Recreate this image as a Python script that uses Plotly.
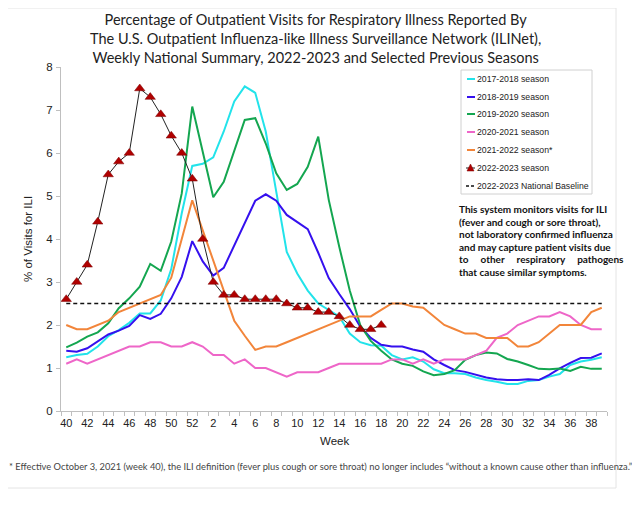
import plotly.graph_objects as go

# ---------------- data ----------------
weeks = [40, 41, 42, 43, 44, 45, 46, 47, 48, 49, 50, 51, 52] + list(range(1, 40))

s2017_18 = [1.25, 1.3, 1.33, 1.5, 1.74, 1.88, 2.05, 2.27, 2.27, 2.57, 3.3, 4.6, 5.7,
            5.75, 5.9, 6.5, 7.2, 7.55, 7.4, 6.5, 5.1, 3.7, 3.2, 2.8, 2.5, 2.35,
            2.2, 1.8, 1.6, 1.53, 1.52, 1.3, 1.2, 1.25, 1.15, 0.97, 0.88, 0.88, 0.86,
            0.78, 0.72, 0.68, 0.63, 0.63, 0.7, 0.72, 0.8, 0.86, 1.07, 1.15, 1.19, 1.25]
s2018_19 = [1.4, 1.38, 1.46, 1.61, 1.78, 1.87, 1.98, 2.23, 2.14, 2.26, 2.62, 3.12, 3.95,
            3.48, 3.15, 3.33, 3.85, 4.36, 4.89, 5.04, 4.89, 4.56, 4.39, 4.23, 3.68, 3.09,
            2.72, 2.37, 1.96, 1.7, 1.54, 1.5, 1.5, 1.43, 1.38, 1.2, 1.07, 0.95, 0.91,
            0.84, 0.78, 0.74, 0.72, 0.72, 0.74, 0.72, 0.84, 0.99, 1.12, 1.23, 1.24, 1.34]
s2019_20 = [1.48, 1.59, 1.73, 1.83, 2.04, 2.39, 2.62, 2.89, 3.42, 3.26, 3.94, 5.06, 7.08,
            6.0, 4.97, 5.33, 6.07, 6.77, 6.81, 6.22, 5.53, 5.14, 5.28, 5.68, 6.38, 4.91,
            3.82, 2.8, 2.0, 1.63, 1.4, 1.2, 1.1, 1.05, 0.92, 0.83, 0.86, 0.95, 1.19,
            1.3, 1.36, 1.34, 1.21, 1.15, 1.07, 0.98, 0.97, 0.99, 0.93, 1.03, 0.98, 0.98]
s2020_21 = [1.1, 1.2, 1.1, 1.2, 1.3, 1.4, 1.5, 1.5, 1.6, 1.6, 1.5, 1.5, 1.6,
            1.5, 1.3, 1.3, 1.1, 1.2, 1.0, 1.0, 0.9, 0.8, 0.9, 0.9, 0.9, 1.0,
            1.1, 1.1, 1.1, 1.1, 1.1, 1.2, 1.2, 1.1, 1.2, 1.1, 1.2, 1.2, 1.2,
            1.3, 1.4, 1.7, 1.8, 2.0, 2.1, 2.2, 2.2, 2.3, 2.2, 2.0, 1.9, 1.9]
s2021_22 = [2.0, 1.9, 1.9, 2.0, 2.1, 2.3, 2.4, 2.5, 2.6, 2.7, 3.1, 4.0, 4.9,
            4.2, 3.5, 2.8, 2.1, 1.75, 1.42, 1.5, 1.5, 1.6, 1.7, 1.8, 1.9, 2.0,
            2.1, 2.2, 2.2, 2.2, 2.35, 2.5, 2.5, 2.43, 2.4, 2.2, 2.0, 1.9, 1.8,
            1.8, 1.7, 1.7, 1.7, 1.5, 1.5, 1.6, 1.8, 2.0, 2.0, 2.0, 2.3, 2.4]
s2022_23 = [2.6, 3.0, 3.4, 4.4, 5.5, 5.8, 6.0, 7.5, 7.3, 6.9, 6.4, 6.0, 5.4,
            4.0, 3.0, 2.7, 2.7, 2.6, 2.6, 2.6, 2.6, 2.5, 2.4, 2.4, 2.3, 2.3,
            2.2, 2.0, 1.9, 1.9, 2.0]
baseline_value = 2.5

series_names = ["2017-2018 season", "2018-2019 season", "2019-2020 season",
                "2020-2021 season", "2021-2022 season*"]
series_colors = ["#22E3EA", "#3510EE", "#14A650", "#EE66C8", "#F2853A"]
series_values = [s2017_18, s2018_19, s2019_20, s2020_21, s2021_22]
current_name = "2022-2023 season"
baseline_name = "2022-2023 National Baseline"

y_ticks = [0, 1, 2, 3, 4, 5, 6, 7, 8]

title_text = ("Percentage of Outpatient Visits for Respiratory Illness Reported By<br>"
              "The U.S. Outpatient Influenza-like Illness Surveillance Network (ILINet),<br>"
              "Weekly National Summary, 2022-2023 and Selected Previous Seasons")
x_title = "Week"
y_title = "% of Visits for ILI"
NB = "\u00a0"
note_lines = ["This system monitors visits for ILI",
              "(fever and cough or sore throat),",
              "not laboratory confirmed influenza",
              "and may capture patient visits due",
              ("to" + NB * 5 + "other" + NB * 5 + "respiratory" + NB * 5 + "pathogens"),
              "that cause similar symptoms."]
footnote = ("* Effective October 3, 2021 (week 40), the ILI definition (fever plus cough or sore throat) "
            "no longer includes \u201cwithout a known cause other than influenza.\u201d")

# ---------------- figure ----------------
idx = list(range(len(weeks)))
fig = go.Figure()

for name, color, vals in zip(series_names, series_colors, series_values):
    fig.add_trace(go.Scatter(x=idx[:len(vals)], y=vals, mode="lines", name=name,
                             line=dict(color=color, width=2)))

fig.add_trace(go.Scatter(x=idx, y=[baseline_value] * len(idx), mode="lines", name=baseline_name,
                         line=dict(color="#111111", width=1.6, dash="4px,3px")))

fig.add_trace(go.Scatter(x=idx[:len(s2022_23)], y=s2022_23, mode="lines+markers", name=current_name,
                         line=dict(color="#222222", width=1),
                         marker=dict(symbol="triangle-up", size=9, color="#B00000",
                                     line=dict(color="#7A0000", width=0.5))))

# page body margin shifts the figure by 8px; positions below are in screen px
OFF = 8
PL, PR, PT, PB = 61, 607, 67, 411
W, H = PR - PL, PB - PT


def xp(px):
    return (px - PL) / W


def yp(py):
    return (PB - py) / H


shapes = []
annotations = []

# faint outer frame
shapes.append(dict(type="rect", xref="paper", yref="paper", x0=xp(7), x1=xp(616), y0=yp(488), y1=yp(8),
                   line=dict(color="#E4E4E4", width=1), fillcolor="rgba(0,0,0,0)", layer="below"))

# title
annotations.append(dict(xref="paper", yref="paper", x=xp(315), y=yp(9), xanchor="center", yanchor="top",
                        text=title_text, showarrow=False, align="center",
                        font=dict(family="Lato", size=14.5, color="#222222")))

# axis titles
annotations.append(dict(xref="paper", yref="paper", x=xp(334), y=yp(441), xanchor="center", yanchor="middle",
                        text=x_title, showarrow=False,
                        font=dict(family="Liberation Sans, Arial", size=11.5, color="#222222")))
annotations.append(dict(xref="paper", yref="paper", x=xp(28), y=yp(239), xanchor="center", yanchor="middle",
                        text=y_title, showarrow=False, textangle=-90,
                        font=dict(family="Liberation Sans, Arial", size=11.5, color="#222222")))

# custom legend
shapes.append(dict(type="rect", xref="paper", yref="paper", x0=xp(461), x1=xp(592), y0=yp(194), y1=yp(70),
                   line=dict(color="#D0D0D0", width=1), fillcolor="white", layer="above"))
leg_y = [79, 97, 114, 132, 150, 168, 186]
leg_items = list(zip(series_names, series_colors)) + [(current_name, "#222222"), (baseline_name, "#111111")]
for i, (name, color) in enumerate(leg_items):
    y = leg_y[i]
    if i < 5:
        shapes.append(dict(type="line", xref="paper", yref="paper", x0=xp(467), x1=xp(475), y0=yp(y), y1=yp(y),
                           line=dict(color=color, width=2), layer="above"))
    elif i == 5:
        shapes.append(dict(type="line", xref="paper", yref="paper", x0=xp(466), x1=xp(475), y0=yp(y), y1=yp(y),
                           line=dict(color="#222222", width=1), layer="above"))
        shapes.append(dict(type="path", xref="paper", yref="paper",
                           path=f"M {xp(467)},{yp(y + 3)} L {xp(474)},{yp(y + 3)} L {xp(470.5)},{yp(y - 4)} Z",
                           fillcolor="#B00000", line=dict(color="#7A0000", width=0.5), layer="above"))
    else:
        shapes.append(dict(type="line", xref="paper", yref="paper", x0=xp(466), x1=xp(475), y0=yp(y), y1=yp(y),
                           line=dict(color=color, width=1.6, dash="3px,2px"), layer="above"))
    annotations.append(dict(xref="paper", yref="paper", x=xp(474.5), y=yp(y), xanchor="left", yanchor="middle",
                            text=name, showarrow=False,
                            font=dict(family="Liberation Sans, Arial", size=8.7, color="#222222")))

# note text
note_y = [209, 222, 234, 247, 259, 272]
note_font = dict(family="Lato", size=10, color="#111111")
for i, line in enumerate(note_lines):
    annotations.append(dict(xref="paper", yref="paper", x=xp(457), y=yp(note_y[i]), xanchor="left",
                            yanchor="middle", text=f"<b>{line}</b>", showarrow=False, font=note_font))

# footnote
annotations.append(dict(xref="paper", yref="paper", x=xp(7), y=yp(466), xanchor="left", yanchor="middle",
                        text=footnote, showarrow=False,
                        font=dict(family="Lato", size=9.3, color="#444444")))

fig.update_layout(
    width=640, height=505,
    margin=dict(l=PL - OFF, r=640 - (PR - OFF), t=PT - OFF, b=505 - (PB - OFF)),
    paper_bgcolor="white", plot_bgcolor="white",
    showlegend=False,
    shapes=shapes, annotations=annotations,
)

fig.update_xaxes(
    automargin=False,
    range=[-0.5, len(weeks) - 0.5],
    tickmode="array", tickvals=idx[::2], ticktext=[str(w) for w in weeks[::2]],
    ticks="outside", ticklen=2, tickcolor="rgba(0,0,0,0)",
    minor=dict(tickmode="array", tickvals=[i - 0.5 for i in range(len(weeks) + 1)],
               ticks="outside", ticklen=4, tickcolor="#BFBFBF", tickwidth=1),
    showline=True, linecolor="#BFBFBF", linewidth=1, showgrid=False, zeroline=False,
    tickfont=dict(family="Liberation Sans, Arial", size=11, color="#222222"),
)
fig.update_yaxes(
    automargin=False,
    range=[0, 8], tickmode="array", tickvals=y_ticks,
    ticks="outside", ticklen=4, tickcolor="#BFBFBF", ticklabelstandoff=1,
    showline=True, linecolor="#BFBFBF", linewidth=1, showgrid=False, zeroline=False,
    tickfont=dict(family="Liberation Sans, Arial", size=11.5, color="#222222"),
)

fig.write_html("out.html")
